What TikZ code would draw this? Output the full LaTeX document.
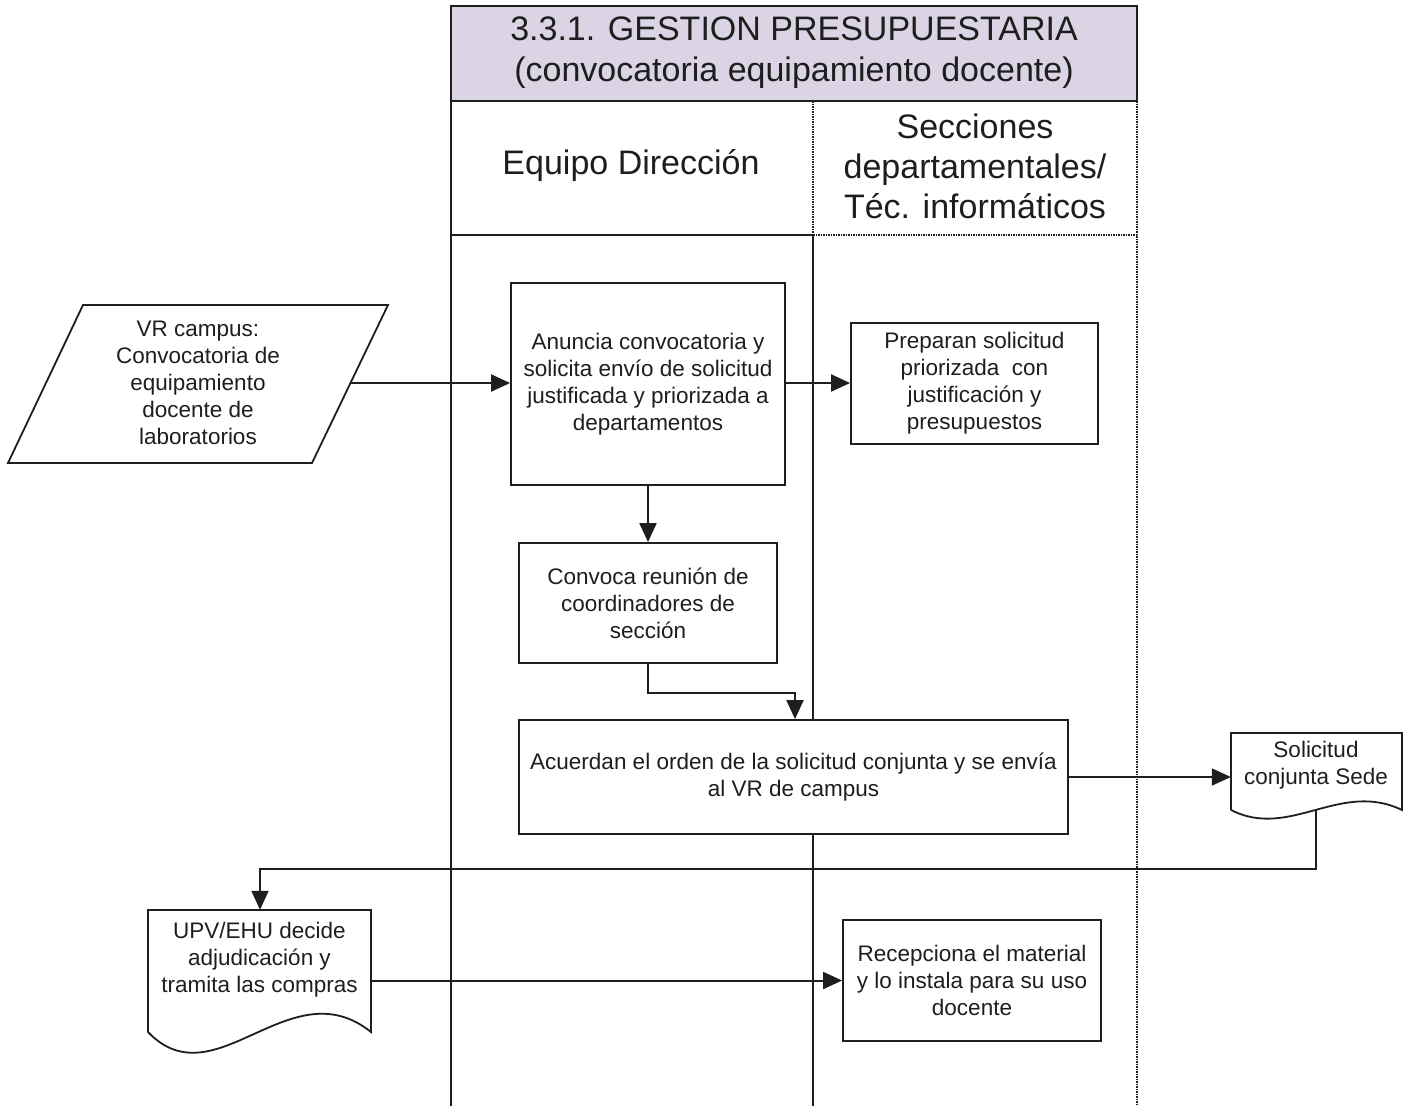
\documentclass[tikz,border=0pt]{standalone}
\usepackage{fontspec}
\setmainfont{Liberation Sans}
\usetikzlibrary{arrows.meta}
\definecolor{titlefill}{HTML}{DAD4E4}
\definecolor{ink}{HTML}{1E1E1E}
\tikzset{
  x=1pt, y=-1pt,
  body/.style={font=\fontsize{22.5}{27}\selectfont, text=ink, align=center},
  boxnode/.style={body, draw=ink, fill=white, line width=1.8pt, inner sep=0pt},
  txtnode/.style={body, inner sep=0pt},
  flow/.style={draw=ink, line width=2pt, -{Triangle[length=19pt,width=17pt]}},
  solidln/.style={draw=ink, line width=2pt},
  dotln/.style={draw=ink, line width=2pt, dash pattern=on 1.5pt off 1pt},
  shapeln/.style={draw=ink, line width=1.8pt, line join=miter}
}
\begin{document}
\begin{tikzpicture}
\useasboundingbox (0,0) rectangle (1409,1106);
% pool title band
\fill[titlefill] (451,6) rectangle (1137,101);
\draw[solidln] (451,1106) -- (451,6) -- (1137,6) -- (1137,101);
\draw[solidln] (451,101) -- (1137,101);
\node[font=\fontsize{34}{41}\selectfont, text=ink, align=center] (title) at (794,53)
  {3.3.1. GESTION PRESUPUESTARIA\\(convocatoria equipamiento docente)};
% lane headers
\draw[solidln] (451,235) -- (813,235);
\draw[dotln] (813,235) -- (1137,235);
\draw[dotln] (813,101) -- (813,235);
\draw[solidln] (813,235) -- (813,1106);
\draw[dotln] (1137,101) -- (1137,1106);
\node[font=\fontsize{34}{40}\selectfont, text=ink, align=center] (lane1) at (631,166) {Equipo Dirección};
\node[font=\fontsize{34}{40}\selectfont, text=ink, align=center] (lane2) at (975,166)
  {Secciones\\departamentales/\\Téc. informáticos};

% parallelogram input
\draw[shapeln] (83,305) -- (388,305) -- (312,463) -- (8,463) -- cycle;
\node[txtnode] (vr) at (198,383) {VR campus:\\Convocatoria de\\equipamiento\\docente de\\laboratorios};
\coordinate (vrR) at (350.5,383);

% process boxes
\node[boxnode, minimum width=274pt, minimum height=202pt] (anuncia) at (648,384)
  {Anuncia convocatoria y\\solicita envío de solicitud\\justificada y priorizada a\\departamentos};
\node[boxnode, minimum width=247pt, minimum height=121pt] (preparan) at (974.5,383.5)
  {Preparan solicitud\\priorizada\ \ con\\justificación y\\presupuestos};
\node[boxnode, minimum width=258pt, minimum height=120pt] (convoca) at (648,603)
  {Convoca reunión de\\coordinadores de\\sección};
\node[boxnode, minimum width=549pt, minimum height=114pt] (acuerdan) at (793.5,777)
  {Acuerdan el orden de la solicitud conjunta y se envía\\al VR de campus};
\node[boxnode, minimum width=258pt, minimum height=121pt] (recep) at (972,980.5)
  {Recepciona el material\\y lo instala para su uso\\docente};

% document: Solicitud conjunta Sede
\node[txtnode, minimum width=171pt, minimum height=77pt] (sol) at (1316.5,771.5) {};
\node[txtnode] (soltxt) at (1316,765) {Solicitud\\conjunta Sede};
\draw[shapeln] (1231,810) -- (1231,733) -- (1402,733) -- (1402,810)
  .. controls (1340,780) and (1290,840) .. (1231,810);
\coordinate (solB) at (1316,810);

% document: UPV/EHU
\node[txtnode, minimum width=223pt, minimum height=122pt] (upv) at (259.5,971) {};
\node[txtnode] (upvtxt) at (259.5,960) {UPV/EHU decide\\adjudicación y\\tramita las compras};
\draw[shapeln] (148,1032) -- (148,910) -- (371,910) -- (371,1032)
  .. controls (290,967) and (215,1102) .. (148,1032);

% connectors
\draw[flow] (vrR) -- (anuncia.west |- vrR);
\draw[flow] (anuncia.east |- vrR) -- (preparan.west |- vrR);
\draw[flow] (anuncia.south) -- (convoca.north);
\draw[flow] (convoca.south) -- ++(0,29) -| ([xshift=1.5pt]acuerdan.north);
\draw[flow] (acuerdan.east) -- (acuerdan.east -| sol.west);
\draw[flow] (solB) |- (260,869) -- (upv.north -| 260,0);
\draw[flow] (upv.east |- recep.west) -- (recep.west);
\end{tikzpicture}
\end{document}
